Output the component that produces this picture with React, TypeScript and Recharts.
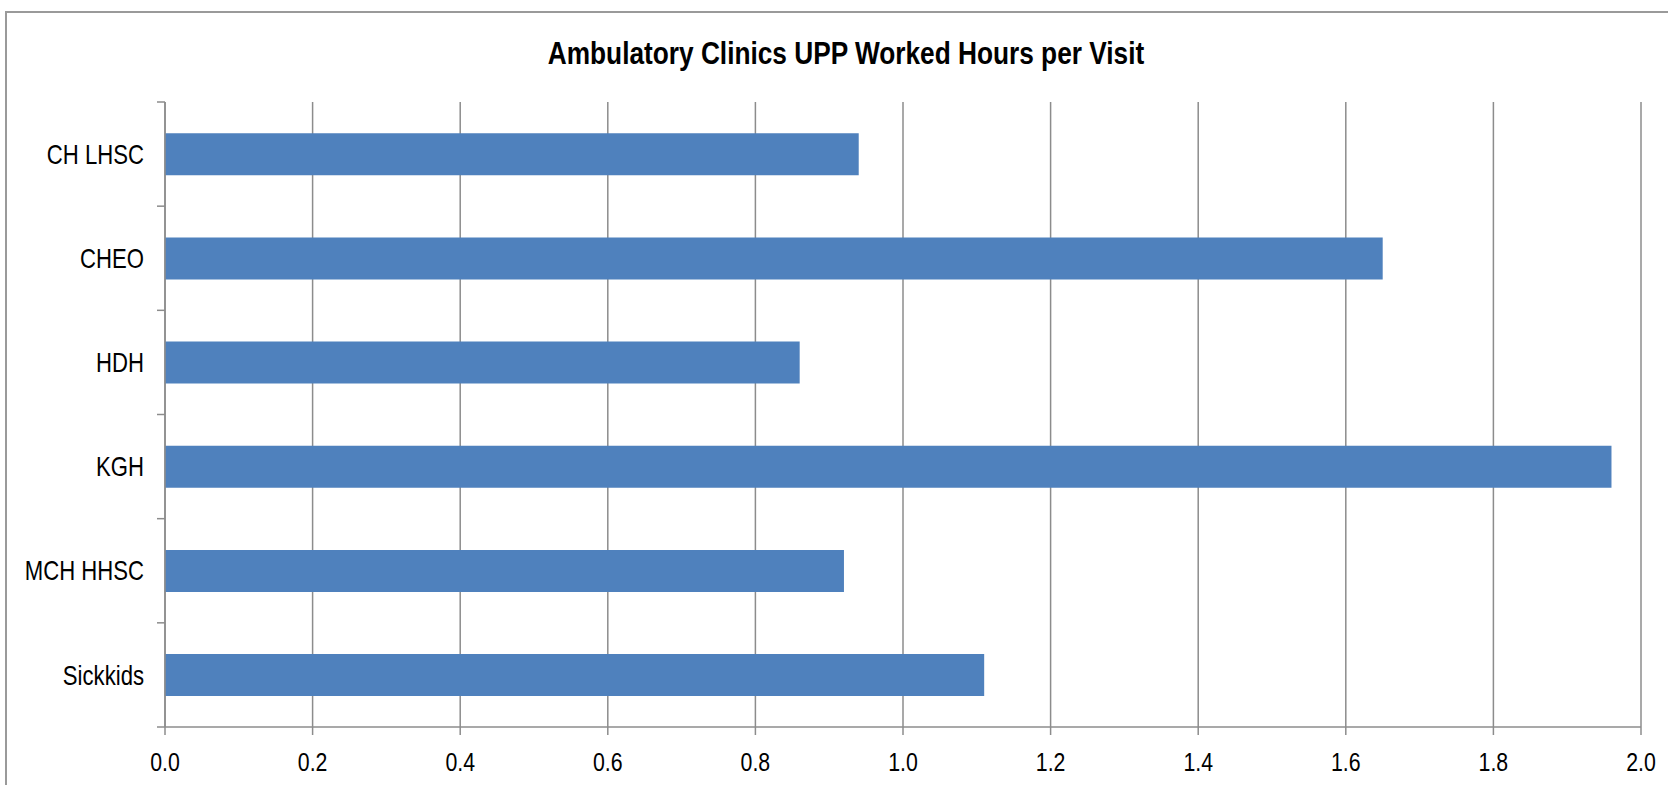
import { Bar, BarChart, CartesianGrid, XAxis, YAxis } from "recharts";

const hospitals = ["CH LHSC", "CHEO", "HDH", "KGH", "MCH HHSC", "Sickkids"];
const workedHoursPerVisit = [0.94, 1.65, 0.86, 1.96, 0.92, 1.11];
const xTicks = [0, 0.2, 0.4, 0.6, 0.8, 1.0, 1.2, 1.4, 1.6, 1.8, 2.0];

const data = hospitals.map((name, i) => ({ name, value: workedHoursPerVisit[i] }));

const CHART_W = 1668;
const CHART_H = 785;
const MARGIN = { top: 102, right: 27, left: 0, bottom: 0 };
const Y_AXIS_W = 165;
const X_AXIS_H = 58;
// no Arial Narrow offline: squeeze Liberation Sans horizontally instead
const FONT = "'Liberation Sans', Arial, sans-serif";
const NARROW = 0.82;
const AXIS_GRAY = "#8c8c8c";

const bandSize = (CHART_H - MARGIN.top - MARGIN.bottom - X_AXIS_H) / hospitals.length;

function NarrowText({ x, y, anchor, dy, size, children }: { x: number; y: number; anchor: "start" | "middle" | "end"; dy: string; size: number; children: any }) {
  return (
    <text
      transform={`translate(${x},${y}) scale(${NARROW},1)`}
      dy={dy}
      textAnchor={anchor}
      fill="#000"
      fontSize={size}
      fontFamily={FONT}
    >
      {children}
    </text>
  );
}

function CategoryTick(props: any) {
  const { x, y, payload, index } = props;
  return (
    <g>
      <line x1={x - 8} x2={x} y1={y - bandSize / 2} y2={y - bandSize / 2} stroke={AXIS_GRAY} strokeWidth={1.5} />
      {index === hospitals.length - 1 ? (
        <line x1={x - 8} x2={x} y1={y + bandSize / 2} y2={y + bandSize / 2} stroke={AXIS_GRAY} strokeWidth={1.5} />
      ) : null}
      <NarrowText x={x - 21} y={y} anchor="end" dy="0.36em" size={27}>
        {payload.value}
      </NarrowText>
    </g>
  );
}

function ValueTick(props: any) {
  const { x, y, payload } = props;
  return (
    <NarrowText x={x} y={y} anchor="middle" dy="0.72em" size={26}>
      {Number(payload.value).toFixed(1)}
    </NarrowText>
  );
}

export default function App() {
  return (
    <div style={{ position: "absolute", left: 0, top: 0, width: CHART_W, height: CHART_H, overflow: "hidden", background: "#fff" }}>
      <div
        style={{
          position: "absolute",
          left: 5,
          top: 11,
          width: 1720,
          height: 820,
          border: "2px solid #9a9a9a",
          boxSizing: "border-box",
        }}
      />
      <div
        style={{
          position: "absolute",
          left: 346,
          top: 32,
          width: 1000,
          height: 42,
          lineHeight: "42px",
          textAlign: "center",
          fontFamily: FONT,
          fontWeight: "bold",
          fontSize: 32,
          color: "#000",
          transform: `scaleX(${NARROW})`,
          whiteSpace: "nowrap",
        }}
      >
        Ambulatory Clinics UPP Worked Hours per Visit
      </div>
      <div style={{ position: "absolute", left: 0, top: 0 }}>
        <BarChart width={CHART_W} height={CHART_H} data={data} layout="vertical" margin={MARGIN} barCategoryGap="30%">
          <CartesianGrid horizontal={false} stroke={AXIS_GRAY} strokeWidth={1.5} />
          <XAxis
            type="number"
            domain={[0, 2]}
            ticks={xTicks}
            height={X_AXIS_H}
            tickSize={8}
            tickMargin={17}
            axisLine={{ stroke: AXIS_GRAY, strokeWidth: 1.5 }}
            tickLine={{ stroke: AXIS_GRAY, strokeWidth: 1.5 }}
            tick={<ValueTick />}
            interval={0}
          />
          <YAxis
            type="category"
            dataKey="name"
            width={Y_AXIS_W}
            tickSize={0}
            tickMargin={0}
            tickLine={false}
            axisLine={{ stroke: AXIS_GRAY, strokeWidth: 1.5 }}
            tick={<CategoryTick />}
            interval={0}
          />
          <Bar dataKey="value" fill="#4F81BD" isAnimationActive={false} />
        </BarChart>
      </div>
    </div>
  );
}
